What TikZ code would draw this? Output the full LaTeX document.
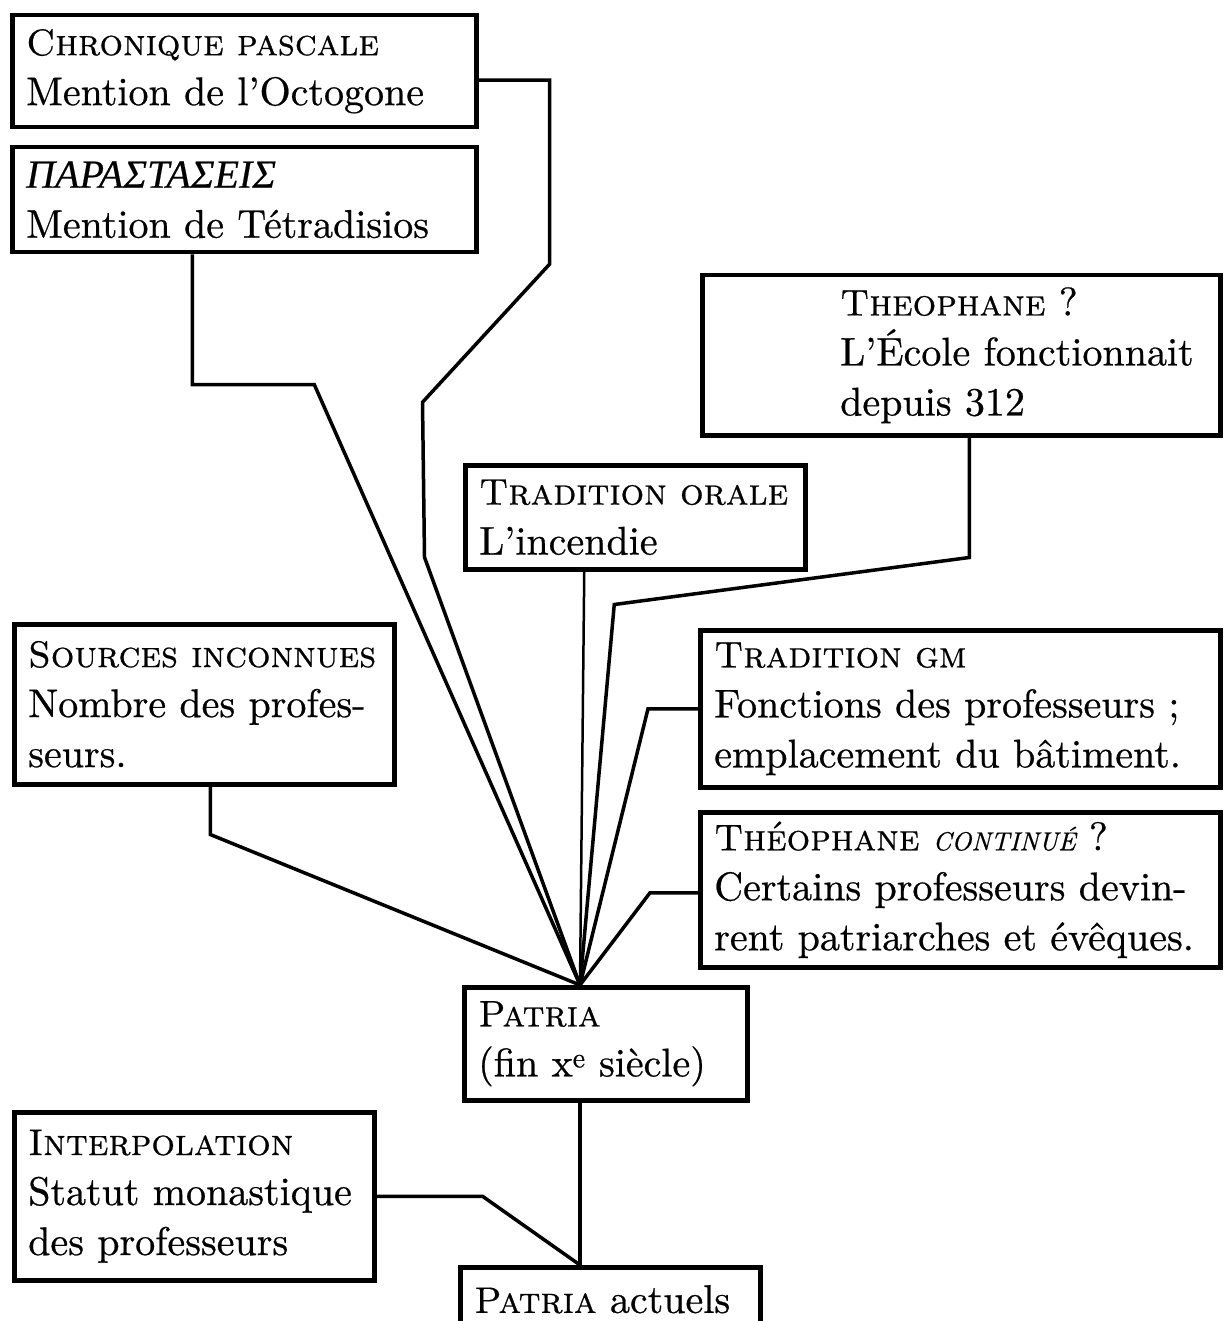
\documentclass[tikz,border=0pt]{standalone}
\usepackage{fontspec}
\setmainfont{lmroman10-regular}[Extension=.otf, ItalicFont=lmroman10-italic, SmallCapsFont=lmromancaps10-regular, SmallCapsFeatures={FakeBold=0.6}, FakeBold=0.6]
\newfontfamily\grkfont{Liberation Serif}[FakeBold=0.4]
\newcommand{\hd}[1]{{\fontsize{37}{50}\selectfont\textsc{#1}}}
\newcommand{\scital}[1]{{\itshape\fontsize{26}{50}\selectfont #1}}

\begin{document}
\begin{tikzpicture}[x=1pt, y=-1pt,
  src/.style = {draw, line width=4.5pt, anchor=north west, align=left, inner xsep=14pt, inner ysep=4pt, font=\fontsize{40}{50}\selectfont},
  link/.style = {line width=3.5pt}]
  \useasboundingbox (0,0) rectangle (1223,1321);
  \node[src, text width=436pt, minimum height=112pt] (chron) at (10,13)
    {\hd{Chronique pascale}\\Mention de l'Octogone};
  \node[src, text width=436pt, minimum height=105pt] (para) at (10,145)
    {{\grkfont\itshape ΠΑΡΑΣΤΑΣΕΙΣ}\\Mention de Tétradisios};
  \node[src, text width=490pt, minimum height=160pt] (theo) at (700,273)
    {\hspace*{124pt}\hd{Theophane}~?\\\hspace*{124pt}L'École fonctionnait\\\hspace*{124pt}depuis 312};
  \node[src, text width=312pt, minimum height=104pt] (orale) at (463,463)
    {\hd{Tradition~orale}\\L'incendie};
  \node[src, text width=352pt, minimum height=160pt] (sources) at (12,622)
    {\hd{Sources~inconnues}\\Nombre des profes-\\seurs.};
  \node[src, text width=492pt, minimum height=157pt] (gm) at (698,628)
    {\hd{Tradition gm}\\Fonctions des professeurs~;\\emplacement du bâtiment.};
  \node[src, text width=492pt, minimum height=155pt] (cont) at (698,810)
    {\hd{Théophane} \scital{CONTINUÉ}~?\\Certains professeurs devin-\\rent patriarches et évêques.};
  \node[src, text width=255pt, minimum height=113pt] (patria) at (462,985)
    {\hd{Patria}\\(fin x\textsuperscript{e} siècle)};
  \node[src, text width=332pt, minimum height=168pt] (interp) at (12,1110)
    {\hd{Interpolation}\\Statut monastique\\des professeurs};
  \node[src, text width=272pt, minimum height=64pt] (actuels) at (458,1265)
    {\hd{Patria} actuels};
  \coordinate (apex) at (580,985); % top of patria
  \coordinate (foot) at (580,1265); % top of actuels
  \draw[link] ([yshift=-9pt]chron.east) -- ++(71,0) -- ++(0,184) -- ++(-127,138) -- ++(2,155) -- (apex);
  \draw[link] ([xshift=-52pt]para.south) -- ++(0,130) -- ++(122,0) -- (apex);
  \draw[link] ([xshift=8pt]theo.south) -- ++(0,120) -- ++(-355,47) -- (apex);
  \draw[link, line width=2.5pt] ([xshift=-51pt]orale.south) -- (apex);
  \draw[link] ([xshift=6pt]sources.south) -- ++(0,48) -- (apex);
  \draw[link] (gm.west) -- ++(-50,0) -- (apex);
  \draw[link] ([yshift=-3pt]cont.west) -- ++(-48,0) -- (apex);
  \draw[link] (patria.south -| apex) -- (foot);
  \draw[link] (interp.east) -- ++(106,0) -- (foot);
\end{tikzpicture}
\end{document}
